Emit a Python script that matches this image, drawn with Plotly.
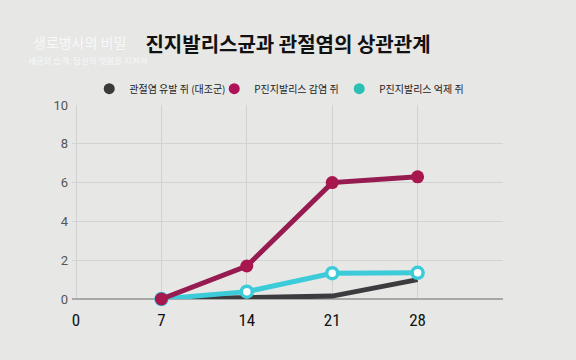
import plotly.graph_objects as go

days = [7, 14, 21, 28]
control = [0, 0.05, 0.15, 1.0]
infected = [0, 1.7, 6.0, 6.3]
suppressed = [0, 0.38, 1.33, 1.35]

names = ["관절염 유발 쥐 (대조군)", "P진지발리스 감염 쥐", "P진지발리스 억제 쥐"]
line_colors = ["#3c3c3e", "#961b50", "#3ccbd9"]
legend_colors = ["#3a3a3a", "#b0125a", "#2cc0b4"]

x_ticks = [0, 7, 14, 21, 28]
y_ticks = [0, 2, 4, 6, 8, 10]

BG = "#e7e7e6"

fig = go.Figure()

# data traces
fig.add_trace(go.Scatter(x=days, y=control, mode="lines", line=dict(color=line_colors[0], width=5),
                         showlegend=False, cliponaxis=False))
fig.add_trace(go.Scatter(x=days, y=suppressed, mode="lines+markers",
                         line=dict(color=line_colors[2], width=5),
                         marker=dict(size=11, color="white", line=dict(color=line_colors[2], width=3.5)),
                         showlegend=False, cliponaxis=False))
fig.add_trace(go.Scatter(x=days, y=infected, mode="lines+markers",
                         line=dict(color=line_colors[1], width=5),
                         marker=dict(size=13, color="#a8164e"),
                         showlegend=False, cliponaxis=False))

# legend-only traces
for n, c in zip(names, legend_colors):
    fig.add_trace(go.Scatter(x=[None], y=[None], mode="markers", name=n,
                             marker=dict(size=11, color=c)))

fig.update_layout(
    width=576, height=360,
    margin=dict(l=72, r=73, t=105, b=61, autoexpand=False),
    paper_bgcolor=BG,
    plot_bgcolor=BG,
    font=dict(family="Noto Sans CJK KR", color="#222"),
    title=dict(text="<b>진지발리스균과 관절염의 상관관계</b>", x=0.5, xanchor="center",
               y=0.875, yanchor="middle", font=dict(size=20, color="#111")),
    legend=dict(orientation="h", x=0.475, xanchor="center", y=1.084, yanchor="middle",
                font=dict(size=10, color="#222"),
                bgcolor="rgba(0,0,0,0)", itemwidth=30, entrywidth=80),
    xaxis=dict(range=[-0.33, 35], tickvals=x_ticks, ticktext=[str(v) for v in x_ticks],
               showgrid=True, gridcolor="#d2d2d2", gridwidth=1, zeroline=False,
               showline=False, ticks="", tickfont=dict(size=17, color="#111", family="Roboto Condensed, Liberation Sans Narrow, Roboto"),
               ticklabelstandoff=9),
    yaxis=dict(range=[0, 10], tickvals=y_ticks, showgrid=True, gridcolor="#d2d2d2", gridwidth=1,
               zeroline=True, zerolinecolor="#a8a8a8", zerolinewidth=2,
               showline=False, ticks="", tickfont=dict(size=13, color="#555", family="Roboto"),
               ticklabelstandoff=3),
)

fig.add_annotation(text="생로병사의 비밀", xref="paper", yref="paper", x=-0.096, y=1.324,
                   xanchor="left", yanchor="middle", showarrow=False,
                   font=dict(size=14, color="#f8f8f8", family="Noto Sans CJK KR"))
fig.add_annotation(text="세균의 습격, 당신의 잇몸을 지켜라", xref="paper", yref="paper", x=-0.106, y=1.23,
                   xanchor="left", yanchor="middle", showarrow=False,
                   font=dict(size=8.5, color="#f8f8f8", family="Noto Sans CJK KR"))

fig.write_html("out.html", config={"displayModeBar": False},
               post_script="document.body.style.margin='0';document.body.style.background='%s';" % BG)
